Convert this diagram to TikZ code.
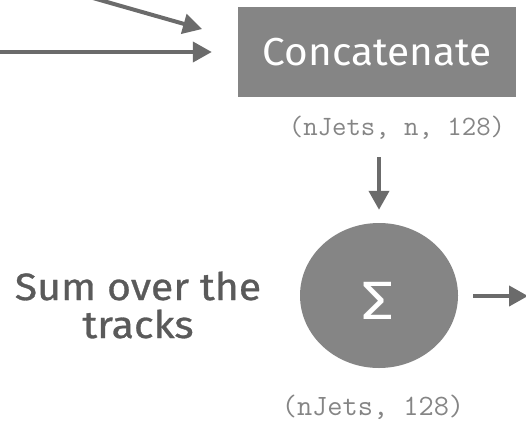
\documentclass[tikz,border=0pt]{standalone}
\usepackage{fontspec}
\setmainfont{Fira Sans}
\usetikzlibrary{arrows.meta,shapes.geometric}
\definecolor{boxgray}{HTML}{858585}
\definecolor{arrgray}{HTML}{6B6B6B}
\definecolor{txtgray}{HTML}{5A5A5A}
\definecolor{dimgray}{HTML}{858585}
\tikzset{
  arr/.style={draw=arrgray, line width=4pt,
    -{Triangle[length=19pt,width=20pt]}},
  opbox/.style={rectangle, fill=boxgray, minimum width=278pt,
    minimum height=90pt, inner sep=0pt, text=white,
    font=\fontsize{39}{44}\selectfont\addfontfeature{FakeStretch=1.04}},
  sumnode/.style={ellipse, fill=boxgray, minimum width=158pt,
    minimum height=145pt, inner sep=0pt},
  sigma/.style={text=white, inner sep=0pt,
    font=\fontsize{54}{60}\selectfont\addfontfeature{FakeStretch=1.2}},
  shapelbl/.style={text=dimgray, inner sep=0pt},
  note/.style={text=txtgray, align=center, inner sep=0pt,
    font=\fontsize{38}{40}\selectfont\addfontfeature{FakeStretch=1.08,FakeBold=0.8}},
}
\begin{document}
\begin{tikzpicture}[x=1pt,y=-1pt]
  \useasboundingbox (0,0) rectangle (526,425);
  \clip (0,0) rectangle (526,425);

  % Concatenate block and its two inputs
  \node[opbox] (concat) at (377,52) {Concatenate};
  \coordinate (inA) at (88,-3.4);
  \coordinate (inB) at (-5,52);
  \draw[arr, shorten >=37.4pt] (inA) -- (238,39.3);
  \draw[arr, shorten >=26pt] (inB) -- (concat.west);
  \node[shapelbl, font=\ttfamily\fontsize{28}{30}\selectfont\addfontfeature{FakeBold=0.6}]
    (shpA) at (397,128) {(nJets, n, 128)};

  % sum over the tracks
  \node[sumnode] (sum) at (379,295.5) {};
  \node[sigma] (sig) at (378,301) {Σ};
  \draw[arr, shorten >=13pt] (379,157) -- (sum.north);
  \node[note, anchor=base] (lbl) at (138,338)
    {Sum over the\\[-2pt]tracks};
  \node[shapelbl, font=\ttfamily\fontsize{29.5}{32}\selectfont\addfontfeature{FakeBold=0.6}]
    (shpB) at (373,407) {(nJets, 128)};

  % output of the sum
  \coordinate (out) at (528,296);
  \draw[arr, shorten <=15pt] (sum.east |- out) -- (out);
\end{tikzpicture}
\end{document}
